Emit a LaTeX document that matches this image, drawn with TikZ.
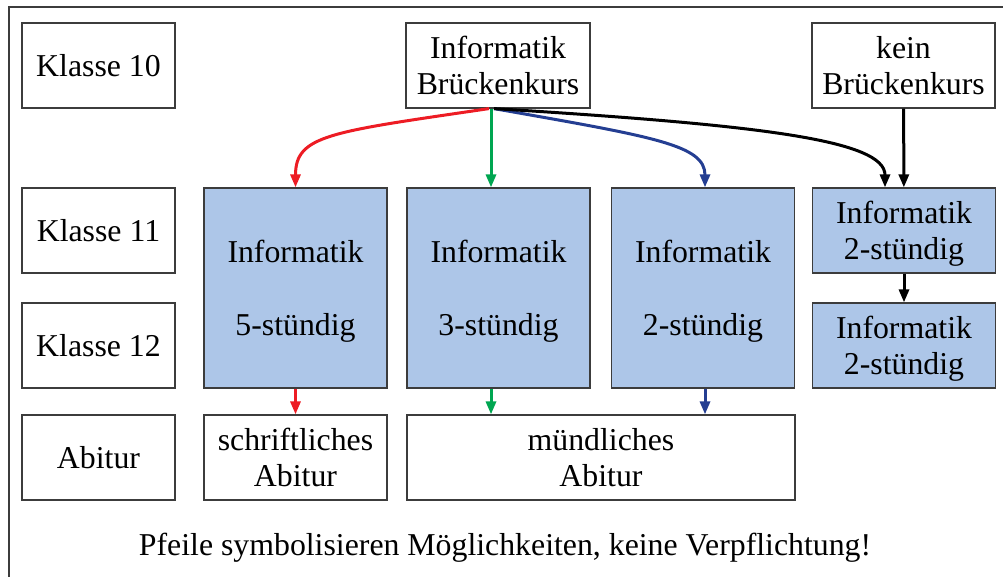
\documentclass[tikz,border=0pt]{standalone}
\usepackage{fontspec}
\setmainfont{Liberation Serif}
\usepackage{xcolor}
\definecolor{Red}{RGB}{237,28,36}
\definecolor{Green}{RGB}{0,166,81}
\definecolor{Blue}{RGB}{36,62,146}
\definecolor{Lightblue}{RGB}{173,198,232}
\definecolor{Frame}{RGB}{60,60,60}
\newcommand{\boxfont}{\fontsize{31.8}{36}\selectfont}
\usetikzlibrary{arrows.meta}

\begin{document}
\begin{tikzpicture}[x=1pt, y=-1pt,
		box/.style={draw=Frame, line width=1.2pt, align=center, inner sep=0pt, font=\boxfont, minimum width=153pt, minimum height=85pt},
		course/.style={box, fill=Lightblue, minimum width=183pt, text depth=-3pt},
		flow/.style={line width=3pt, -{Triangle[length=13pt, width=10pt]}}]
		
		\useasboundingbox (0,0) rectangle (1003,577);
		
		% Frame
		\draw [Frame, line width=1.4pt] (9,577) -- (9,7) -- (1003,7);
		
		% Rows
		\node[box] (k10) at (98.5,65.5) {Klasse 10};
		\node[box] (k11) at (98.5,230.5) {Klasse 11};
		\node[box] (k12) at (98.5,345.5) {Klasse 12};
		\node[box] (abi) at (98.5,457.5) {Abitur};
		
		% Start
		\node[box, minimum width=184pt] (bk) at (498,65.5) {Informatik\\Brückenkurs};
		\node[box, minimum width=183pt] (kbk) at (903.5,65.5) {kein\\Brückenkurs};
		
		% Courses
		\node[course, minimum height=200pt] (i5) at (295.5,288) {Informatik\\[37pt]5-stündig};
		\node[course, minimum height=200pt] (i3) at (498.5,288) {Informatik\\[37pt]3-stündig};
		\node[course, minimum height=200pt] (i2) at (703,288) {Informatik\\[37pt]2-stündig};
		\node[course] (i2a) at (904,230.5) {Informatik\\2-stündig};
		\node[course] (i2b) at (904,345.5) {Informatik\\2-stündig};
		
		% Abitur
		\node[box, minimum width=183pt] (schr) at (295.5,457.5) {schriftliches\\Abitur};
		\node[box, minimum width=388pt] (muendl) at (601,457.5) {mündliches\\Abitur};
		
		% Text
		\node[font=\boxfont] (note) at (505,548) {Pfeile symbolisieren Möglichkeiten, keine Verpflichtung!};
		
		% Flows
		\coordinate (gs) at ([xshift=-7pt]bk.south);
		\coordinate (gt) at ([xshift=-7.5pt]i3.south);
		\coordinate (bt) at ([xshift=2pt]i2.south);
		
		\draw [flow, Red] ([xshift=-9pt]bk.south) .. controls (330,132) and (295.5,135) .. (i5.north);
		\draw [flow, Green] (gs) -- (gs |- i3.north);
		\draw [flow, Blue] ([xshift=-4pt]bk.south) .. controls (655,137) and (705,145) .. ([xshift=2pt]i2.north);
		\draw [flow, black] ([xshift=-4pt]bk.south) .. controls (760,125) and (885,140) .. ([xshift=-19pt]i2a.north);
		\draw [flow, black] (kbk) -- (i2a);
		\draw [flow, black] (i2a) -- (i2b);
		
		\draw [flow, Red] (i5) -- (schr);
		\draw [flow, Green] (gt) -- (gt |- muendl.north);
		\draw [flow, Blue] (bt) -- (bt |- muendl.north);
		
	\end{tikzpicture}
\end{document}
